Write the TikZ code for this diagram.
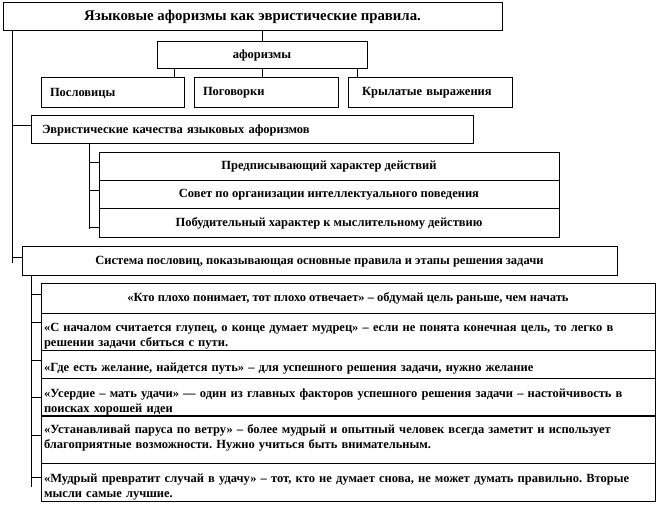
\documentclass[tikz,border=0pt]{standalone}
\usepackage{fontspec}
\setmainfont{Liberation Serif}
\frenchspacing
\begin{document}
\begin{tikzpicture}[
		x=1pt, y=-1pt,
		line width=1pt,
		every node/.style={font=\fontsize{12.5}{15}\selectfont\bfseries, align=center, inner sep=0pt},
		box/.style={draw, line width=1pt, minimum height=28pt},
		lbox/.style={draw, line width=1pt, align=left, minimum height=28pt},
		rowbox/.style={lbox, text width=608pt, inner xsep=3pt, execute at begin node={\rule{0pt}{18pt}}}
	]
		\useasboundingbox (0,0) rectangle (659,505);

		\node[box, minimum width=499pt, font=\fontsize{14.8}{17}\selectfont\bfseries] (title) at (252.5, 17) {Языковые афоризмы как эвристические правила.};
		\node[box, minimum width=210pt, minimum height=27pt] (aph) at (262, 55.5) {афоризмы};

		\node[lbox, text width=125pt, inner xsep=9pt, minimum height=30pt] (posl) at (112.5, 93) {Пословицы};
		\node[lbox, text width=126pt, inner xsep=9pt, minimum height=30pt] (pogov) at (266, 93) {Поговорки};
		\node[lbox, text width=136pt, inner xsep=14pt, minimum height=30pt] (kryl) at (430, 93) {Крылатые выражения};

		\node[lbox, text width=420pt, inner xsep=11pt] (evr) at (252, 130) {Эвристические качества языковых афоризмов};
		\node[box, minimum width=460pt] (q1) at (329, 167) {Предписывающий характер действий};
		\node[box, minimum width=460pt] (q2) at (329, 195) {Совет по организации интеллектуального поведения};
		\node[box, minimum width=460pt, minimum height=29pt] (q3) at (329, 223.5) {Побудительный характер к мыслительному действию};

		\node[box, minimum width=595pt, minimum height=29pt] (sys) at (319.5, 261.5) {Система пословиц, показывающая основные правила и этапы решения задачи};

		\node[box, minimum width=614pt, minimum height=29pt] (r1) at (348, 298.5) {«Кто плохо понимает, тот плохо отвечает» – обдумай цель раньше, чем начать};
		\node[rowbox, minimum height=37pt] (r2) at (348, 331.5) {«С началом считается глупец, о конце думает мудрец» – если не понята конечная цель, то легко в\\решении задачи сбиться с пути.};
		\node[rowbox] (r3) at (348, 364) {«Где есть желание, найдется путь» – для успешного решения задачи, нужно желание};
		\node[rowbox, minimum height=38pt] (r4) at (348, 397) {«Усердие – мать удачи» — один из главных факторов успешного решения задачи – настойчивость в\\поисках хорошей идеи};
		\node[rowbox, minimum height=47pt] (r5) at (348, 439.5) {«Устанавливай паруса по ветру» – более мудрый и опытный человек всегда заметит и использует\\благоприятные возможности. Нужно учиться быть внимательным.\\\mbox{}};
		\node[rowbox, minimum height=38pt] (r6) at (348, 482) {«Мудрый превратит случай в удачу» – тот, кто не думает снова, не может думать правильно. Вторые\\мысли самые лучшие.};

		% aphorisms branch
		\draw (title.south -| aph.north) -- (aph.north);
		\coordinate (a1) at ([xshift=18pt]aph.south west);
		\coordinate (a3) at ([xshift=-10pt]aph.south east);
		\draw (a1) -- (a1 |- posl.north);
		\draw (aph.south) -- (aph.south |- pogov.north);
		\draw (a3) -- (a3 |- kryl.north);

		% main spine
		\coordinate (spineend) at (12, 263);
		\draw (title.south west -| spineend) -- (spineend);
		\draw ([yshift=4pt]evr.west) -- ([yshift=4pt]evr.west -| spineend);
		\draw ([yshift=4pt]sys.west) -- ([yshift=4pt]sys.west -| spineend);

		% qualities
		\coordinate (qend) at (89, 229);
		\draw (evr.south -| qend) -- (qend);
		\draw ([yshift=4pt]q1.west) -- ([yshift=4pt]q1.west -| qend);
		\draw ([yshift=4pt]q2.west) -- ([yshift=4pt]q2.west -| qend);
		\draw ([yshift=-4.5pt]q3.west) -- ([yshift=-4.5pt]q3.west -| qend);

		% proverbs system
		\coordinate (rend) at (31, 487);
		\draw (sys.south -| rend) -- (rend);
		\draw ([yshift=4pt]r1.west) -- ([yshift=4pt]r1.west -| rend);
		\draw ([yshift=9pt]r2.west) -- ([yshift=9pt]r2.west -| rend);
		\draw ([yshift=4pt]r3.west) -- ([yshift=4pt]r3.west -| rend);
		\draw (r4.west) -- (r4.west -| rend);
		\draw ([yshift=4pt]r5.west) -- ([yshift=4pt]r5.west -| rend);
		\draw ([yshift=5pt]r6.west) -- ([yshift=5pt]r6.west -| rend);
	\end{tikzpicture}
\end{document}
